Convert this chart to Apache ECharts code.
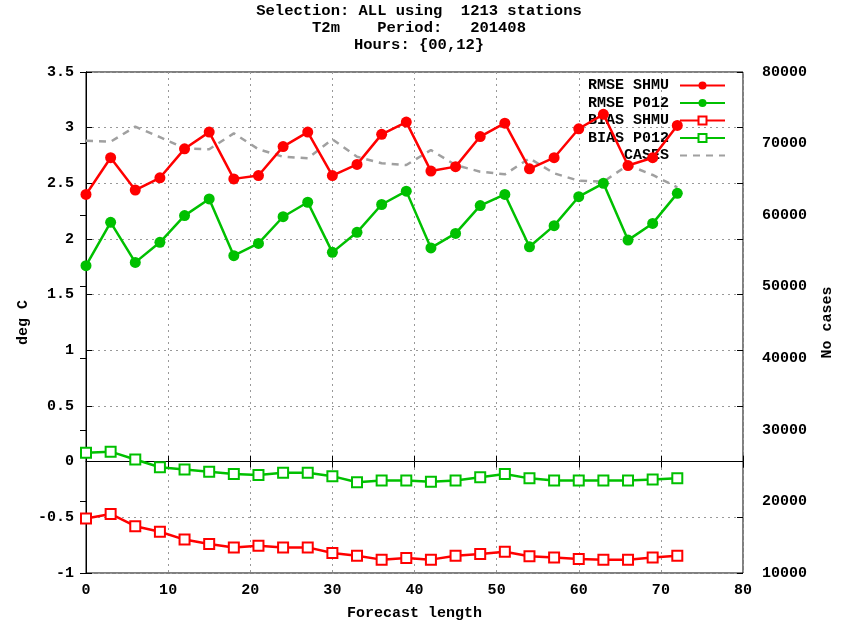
<!DOCTYPE html>
<html><head><meta charset="utf-8">
<script src="https://cdn.jsdelivr.net/npm/echarts@6/dist/echarts.min.js"></script>
<style>html,body{margin:0;padding:0;background:#fff}#c{width:845px;height:627px}</style>
</head><body><div id="c"></div>
<script>
const leadTimes = [0,3,6,9,12,15,18,21,24,27,30,33,36,39,42,45,48,51,54,57,60,63,66,69,72];
const rmseShmu = [2.40,2.73,2.44,2.55,2.81,2.96,2.54,2.57,2.83,2.96,2.57,2.67,2.94,3.05,2.61,2.65,2.92,3.04,2.63,2.73,2.99,3.12,2.66,2.73,3.02];
const rmseP012 = [1.76,2.15,1.79,1.97,2.21,2.36,1.85,1.96,2.20,2.33,1.88,2.06,2.31,2.43,1.92,2.05,2.30,2.40,1.93,2.12,2.38,2.50,1.99,2.14,2.41];
const biasShmu = [-0.51,-0.47,-0.58,-0.63,-0.70,-0.74,-0.77,-0.755,-0.77,-0.77,-0.82,-0.845,-0.88,-0.865,-0.88,-0.845,-0.83,-0.81,-0.85,-0.86,-0.875,-0.88,-0.88,-0.86,-0.845];
const biasP012 = [0.08,0.09,0.02,-0.05,-0.07,-0.09,-0.11,-0.12,-0.10,-0.10,-0.13,-0.185,-0.17,-0.17,-0.18,-0.17,-0.14,-0.11,-0.15,-0.17,-0.17,-0.17,-0.17,-0.16,-0.15];
const cases = [70400,70260,72360,70900,69340,69200,71430,69200,68160,67940,70600,68170,67240,67000,69100,67000,66070,65700,67940,65840,64810,64670,67000,65610,63890];
const titleLines = ['Selection: ALL using  1213 stations','T2m    Period:   201408','Hours: {00,12}'];

const FONT = '"Liberation Mono", "DejaVu Sans Mono", monospace';
const pair = arr => leadTimes.map((x,i)=>[x,arr[i]]);
const RED = '#ff0000', GREEN = '#00c000', GRAY = '#a0a0a0';
const txt = {fontFamily: FONT, fontWeight: 'bold', fontSize: 15, color: '#000'};

const chart = echarts.init(document.getElementById('c'), null, {renderer:'canvas'});
chart.setOption({
  animation: false,
  backgroundColor: '#fff',
  title: {
    text: titleLines.join('\n'), left: 414, textAlign: 'center', top: -2, itemGap: 0,
    textStyle: Object.assign({}, txt, {fontSize: 15.5, lineHeight: 17})
  },
  grid: {left: 86, right: 102, top: 72, bottom: 54, show: true, borderColor: '#000', borderWidth: 1,
         outerBoundsMode: 'none', containLabel: false},
  legend: {
    orient: 'vertical', right: 114, top: 73, align: 'right',
    itemWidth: 45, itemHeight: 10, itemGap: 2.5,
    textStyle: Object.assign({}, txt, {padding: [0, 6, 0, 0]}),
    data: ['RMSE SHMU','RMSE P012','BIAS SHMU','BIAS P012',{name: 'CASES', itemStyle: {opacity: 0}}]
  },
  xAxis: [{
    type: 'value', min: 0, max: 80, interval: 10,
    name: 'Forecast length', nameLocation: 'middle', nameGap: 33, nameMoveOverlap: false,
    nameTextStyle: txt,
    axisLine: {lineStyle: {color: '#000'}},
    axisTick: {inside: true, length: 6, lineStyle: {color: '#000'}},
    axisLabel: Object.assign({}, txt, {margin: 10}),
    splitLine: {show: true, lineStyle: {color: '#999', type: [2,4], width: 1}}
  },{
    type: 'value', min: 0, max: 80, interval: 10, position: 'top',
    axisLine: {show: false}, axisTick: {inside: true, length: 6, lineStyle: {color:'#000'}},
    axisLabel: {show: false}, splitLine: {show: false}
  }],
  yAxis: [{
    type: 'value', min: -1, max: 3.5, interval: 0.5,
    name: 'deg C', nameLocation: 'middle', nameGap: 55, nameRotate: 90, nameMoveOverlap: false,
    nameTextStyle: txt,
    axisLine: {show: true, lineStyle: {color: '#000'}},
    axisTick: {show: true, inside: true, length: 6, lineStyle: {color: '#000'}},
    axisLabel: Object.assign({}, txt, {margin: 12}),
    splitLine: {show: true, lineStyle: {color: '#999', type: [2,4], width: 1}}
  },{
    type: 'value', min: 10000, max: 80000, interval: 10000, position: 'right',
    name: 'No cases', nameLocation: 'middle', nameGap: 77, nameRotate: 90, nameMoveOverlap: false,
    nameTextStyle: txt,
    axisLine: {show: true, lineStyle: {color: '#000'}},
    axisTick: {show: true, inside: true, length: 6, lineStyle: {color: '#000'}},
    axisLabel: Object.assign({}, txt, {margin: 19, formatter: v => String(v)}),
    splitLine: {show: false}
  },{
    type: 'value', min: -1, max: 3.5, interval: 0.5, position: 'right',
    axisLine: {show: false},
    axisTick: {show: true, inside: true, length: 6, lineStyle: {color: '#000'}},
    axisLabel: {show: false}, splitLine: {show: false}
  }],
  series: [
    {name: 'RMSE SHMU', type: 'line', data: pair(rmseShmu), symbol: 'circle', symbolSize: 11,
     itemStyle: {color: RED}, lineStyle: {color: RED, width: 2.5}, z: 5},
    {name: 'RMSE P012', type: 'line', data: pair(rmseP012), symbol: 'circle', symbolSize: 11,
     itemStyle: {color: GREEN}, lineStyle: {color: GREEN, width: 2.5}, z: 5},
    {name: 'BIAS SHMU', type: 'line', data: pair(biasShmu), symbol: 'emptyRect', symbolSize: 10,
     itemStyle: {color: RED, borderWidth: 2}, lineStyle: {color: RED, width: 2.5}, z: 5},
    {name: 'BIAS P012', type: 'line', data: pair(biasP012), symbol: 'emptyRect', symbolSize: 10,
     itemStyle: {color: GREEN, borderWidth: 2}, lineStyle: {color: GREEN, width: 2.5}, z: 5},
    {name: 'CASES', type: 'line', yAxisIndex: 1, data: pair(cases), symbol: 'none', showSymbol: false,
     itemStyle: {color: GRAY}, lineStyle: {color: GRAY, width: 2.5, type: [7,6]}, z: 4}
  ]
});
</script></body></html>
